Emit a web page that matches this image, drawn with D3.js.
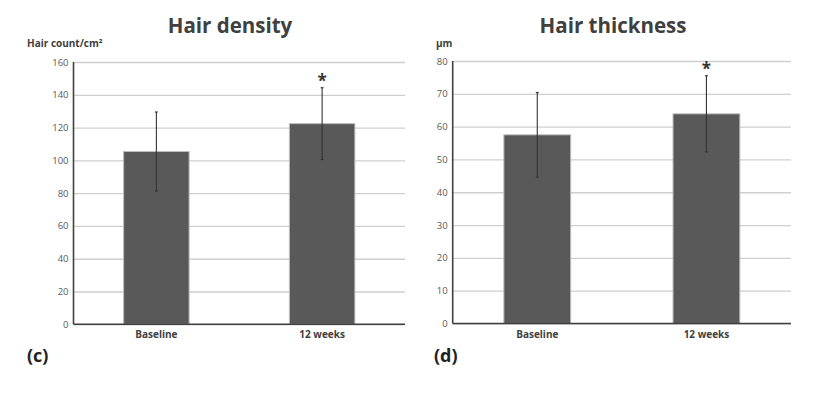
<!DOCTYPE html>
<html><head><meta charset="utf-8">
<script src="https://cdn.jsdelivr.net/npm/d3@7"></script>
<style>body{margin:0;background:#fff}svg{display:block}text{font-family:"Open Sans",sans-serif}</style>
</head><body><svg id="c" width="831" height="398"></svg>
<script>
const categories = ["Baseline", "12 weeks"];
const densityMean = [105.4, 122.4];
const densitySD = [24.1, 21.9];
const densityTicks = [0, 20, 40, 60, 80, 100, 120, 140, 160];
const thicknessMean = [57.5, 63.9];
const thicknessSD = [12.9, 11.6];
const thicknessTicks = [0, 10, 20, 30, 40, 50, 60, 70, 80];
const significant = [false, true];

const svg = d3.select("#c");

function panel(o) {
  const g = svg.append("g");
  const x = d3.scaleBand().domain(categories).range([o.x0, o.x1]).paddingInner(0.605).paddingOuter(0.3025);
  const y = d3.scaleLinear().domain([0, o.max]).range([o.y0, o.y1]);
  // gridlines
  g.append("g").attr("transform", `translate(${o.x0},0)`)
    .call(d3.axisLeft(y).tickValues(o.ticks).tickSize(-(o.x1 - o.x0)).tickFormat(""))
    .call(a => a.select(".domain").remove())
    .call(a => a.selectAll("line").attr("stroke", "#cfcfcf").attr("stroke-width", 1.3));
  // tick labels
  g.append("g").attr("transform", `translate(${o.x0},0)`)
    .call(d3.axisLeft(y).tickValues(o.ticks).tickSize(0).tickPadding(5))
    .call(a => a.select(".domain").remove())
    .call(a => a.selectAll("text").attr("fill", "#595959").style("font-size", "9.5px").style("font-family", "Open Sans"));
  // bars
  g.selectAll("rect").data(o.mean).join("rect")
    .attr("x", (d, i) => x(categories[i])).attr("width", x.bandwidth())
    .attr("y", d => y(d)).attr("height", d => y(0) - y(d))
    .attr("fill", "#595959").attr("stroke", "#bdbdbd").attr("stroke-width", 1);
  // error bars
  const eb = g.append("g").attr("stroke", "#333").attr("stroke-width", 1.1);
  o.mean.forEach((m, i) => {
    const cx = x(categories[i]) + x.bandwidth() / 2;
    eb.append("line").attr("x1", cx).attr("x2", cx).attr("y1", y(m - o.sd[i])).attr("y2", y(m + o.sd[i]));
    [m - o.sd[i], m + o.sd[i]].forEach(v => eb.append("line").attr("x1", cx - 1.5).attr("x2", cx + 1.5).attr("y1", y(v)).attr("y2", y(v)));
    if (significant[i]) g.append("text").attr("x", cx).attr("y", y(m + o.sd[i]) - 0.5).attr("text-anchor", "middle")
      .attr("fill", "#333").style("font-size", "17px").style("font-weight", "bold").text("*");
  });
  // axes lines
  g.append("line").attr("x1", o.x0).attr("x2", o.x0).attr("y1", y(o.max)).attr("y2", y(0)).attr("stroke", "#404040").attr("stroke-width", 1.6);
  g.append("line").attr("x1", o.x0).attr("x2", o.x1).attr("y1", y(0)).attr("y2", y(0)).attr("stroke", "#404040").attr("stroke-width", 1.6);
  // x labels
  categories.forEach(c => g.append("text").attr("x", x(c) + x.bandwidth() / 2).attr("y", 338)
    .attr("text-anchor", "middle").attr("fill", "#404040").style("font-size", "10px").style("font-weight", "bold").text(c));
  // title
  g.append("text").attr("x", o.tx).attr("y", 33).attr("text-anchor", "middle").attr("fill", "#404040")
    .style("font-size", "20.5px").style("font-weight", "bold").text(o.title);
  // unit
  g.append("text").attr("x", o.ux).attr("y", 47).attr("fill", "#404040")
    .style("font-size", "10px").style("font-weight", "bold").text(o.unit);
  // panel letter
  g.append("text").attr("x", o.lx).attr("y", 362).attr("fill", "#222")
    .style("font-size", "18px").style("font-weight", "bold").text(o.letter);
}

panel({x0: 73.5, x1: 405, y0: 324.3, y1: 62, max: 160, ticks: densityTicks, mean: densityMean, sd: densitySD,
  title: "Hair density", tx: 230, unit: "Hair count/cm²", ux: 27, letter: "(c)", lx: 27});
panel({x0: 452.7, x1: 791, y0: 323.5, y1: 61, max: 80, ticks: thicknessTicks, mean: thicknessMean, sd: thicknessSD,
  title: "Hair thickness", tx: 613, unit: "µm", ux: 436, letter: "(d)", lx: 434});
</script></body></html>
